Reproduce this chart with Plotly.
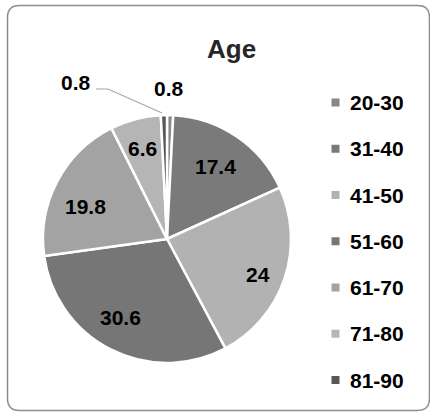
import plotly.graph_objects as go

# Age distribution (percent of respondents)
age_groups = ["20-30", "31-40", "41-50", "51-60", "61-70", "71-80", "81-90"]
shares = [0.8, 17.4, 24, 30.6, 19.8, 6.6, 0.8]
slice_colors = ["#878787", "#7a7a7a", "#b2b2b2", "#767676", "#a3a3a3", "#b5b5b5", "#575757"]

W, H = 430, 412
FONT = "Liberation Sans, Arial, sans-serif"


def px(x):
    return x / W


def py(y):
    return 1 - y / H


# pie geometry in pixels
cx, cy, r = 167, 239, 124

fig = go.Figure()
fig.add_trace(go.Pie(
    labels=age_groups,
    values=shares,
    sort=False,
    direction="clockwise",
    rotation=0,
    marker=dict(colors=slice_colors, line=dict(color="white", width=2.5)),
    textinfo="none",
    hoverinfo="label+value",
    showlegend=False,
    domain=dict(x=[px(cx - r), px(cx + r)], y=[py(cy + r), py(cy - r)]),
))

# value labels: pixel centres for each slice label
label_pos = [(169, 88), (215, 166), (258, 274), (120, 317), (85, 206), (142, 149), (76, 82)]
annotations = []
for v, (lx, ly) in zip(shares, label_pos):
    annotations.append(dict(
        x=px(lx), y=py(ly), xref="paper", yref="paper",
        text=f"<b>{v:g}</b>", showarrow=False, xanchor="center", yanchor="middle",
        font=dict(family=FONT, size=21, color="#000000"),
    ))

# title
annotations.append(dict(
    x=px(231), y=py(49), xref="paper", yref="paper", text="<b>Age</b>",
    showarrow=False, xanchor="center", yanchor="middle",
    font=dict(family=FONT, size=26, color="#262626"),
))

shapes = []
# legend entries
row0, step = 102.5, 46.25
for i, (name, col) in enumerate(zip(age_groups, slice_colors)):
    yc = row0 + i * step
    shapes.append(dict(
        type="rect", xref="paper", yref="paper",
        x0=px(331.5), x1=px(339.5), y0=py(yc + 4), y1=py(yc - 4),
        fillcolor=col, line=dict(width=0),
    ))
    annotations.append(dict(
        x=px(348), y=py(yc), xref="paper", yref="paper", text=f"<b>{name}</b>",
        showarrow=False, xanchor="left", yanchor="middle",
        font=dict(family=FONT, size=21, color="#000000"),
    ))

# leader line for the small 81-90 label
shapes.append(dict(
    type="path", xref="paper", yref="paper",
    path=f"M {px(96)},{py(89)} L {px(108)},{py(89)} L {px(162)},{py(113)}",
    line=dict(color="#a6a6a6", width=1.2),
))

# rounded outer frame
x0, x1, y0, y1, rr = 7.5, 429.5, 5.5, 410.5, 12
frame = (
    f"M {px(x0 + rr)},{py(y0)} L {px(x1 - rr)},{py(y0)} "
    f"Q {px(x1)},{py(y0)} {px(x1)},{py(y0 + rr)} "
    f"L {px(x1)},{py(y1 - rr)} Q {px(x1)},{py(y1)} {px(x1 - rr)},{py(y1)} "
    f"L {px(x0 + rr)},{py(y1)} Q {px(x0)},{py(y1)} {px(x0)},{py(y1 - rr)} "
    f"L {px(x0)},{py(y0 + rr)} Q {px(x0)},{py(y0)} {px(x0 + rr)},{py(y0)} Z"
)
shapes.append(dict(type="path", xref="paper", yref="paper", path=frame,
                   line=dict(color="#8c8c8c", width=1.5)))

fig.update_layout(
    width=W, height=H,
    margin=dict(l=0, r=0, t=0, b=0),
    paper_bgcolor="white",
    plot_bgcolor="white",
    annotations=annotations,
    shapes=shapes,
    font=dict(family=FONT),
)

fig.write_html("out.html")
